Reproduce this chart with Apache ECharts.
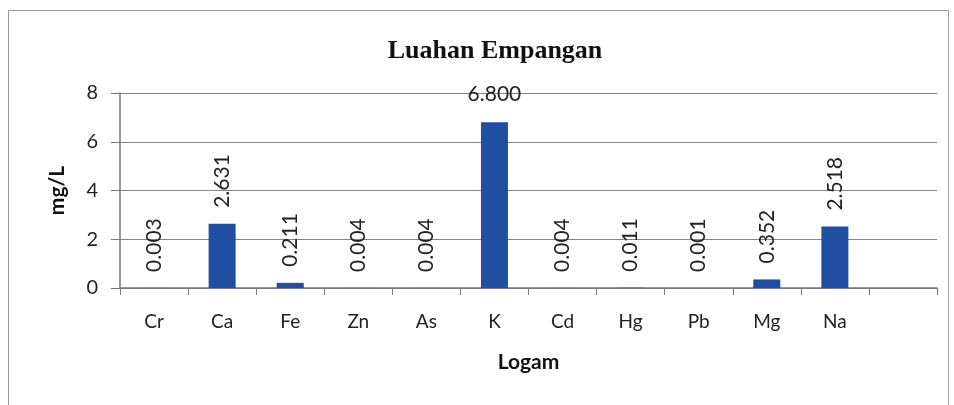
<!DOCTYPE html>
<html><head><meta charset="utf-8">
<script src="https://cdn.jsdelivr.net/npm/echarts@6/dist/echarts.min.js"></script>
<style>html,body{margin:0;padding:0;background:#fff}#c{width:954px;height:405px}</style>
</head><body><div id="c"></div>
<script>
const categories = ['Cr','Ca','Fe','Zn','As','K','Cd','Hg','Pb','Mg','Na',''];
const values = [0.003,2.631,0.211,0.004,0.004,6.800,0.004,0.011,0.001,0.352,2.518,null];
const horizontalLabelCats = ['K'];
const yTicks = {min:0,max:8,interval:2};
const titleText = 'Luahan Empangan';
const yName = 'mg/L';
const xName = 'Logam';

const font = 'Lato, "Open Sans", sans-serif';
const data = values.map((v,i)=>{
  if (v===null) return {value:null};
  const horiz = horizontalLabelCats.includes(categories[i]);
  return {value:v, label: horiz ? {rotate:0, align:'center', verticalAlign:'bottom', distance:18} : {}};
});
const chart = echarts.init(document.getElementById('c'));
chart.setOption({
  animation:false,
  graphic:[{type:'rect',shape:{x:8.5,y:10.5,width:940,height:420},style:{fill:'none',stroke:'#999',lineWidth:1}}],
  title:{text:titleText,left:490,textAlign:'center',top:33,textStyle:{fontFamily:'"Liberation Serif", serif',fontWeight:'bold',fontSize:26,color:'#111'}},
  grid:{left:120,right:17,top:93,bottom:117},
  xAxis:{type:'category',data:categories,
    axisLine:{lineStyle:{color:'#777',width:1.5}},
    axisTick:{show:true,length:7,alignWithLabel:false,lineStyle:{color:'#777'}},
    axisLabel:{fontFamily:font,fontSize:19,color:'#222',margin:24},
    name:xName,nameLocation:'middle',nameGap:64,
    nameTextStyle:{fontFamily:font,fontSize:21,fontWeight:'bold',color:'#111'}},
  yAxis:{type:'value',min:yTicks.min,max:yTicks.max,interval:yTicks.interval,
    axisLine:{show:true,lineStyle:{color:'#777',width:1.5}},
    axisTick:{show:true,length:9,lineStyle:{color:'#777'}},
    splitLine:{lineStyle:{color:'#858585',width:1.2}},
    axisLabel:{fontFamily:font,fontSize:20,color:'#222',margin:22},
    name:yName,nameLocation:'middle',nameGap:52,
    nameTextStyle:{fontFamily:font,fontSize:21,fontWeight:'bold',color:'#111'}},
  series:[{type:'bar',data:data,barWidth:27,itemStyle:{color:'#1f4ea3'},
    label:{show:true,position:'top',rotate:90,align:'left',verticalAlign:'middle',distance:16,
      fontFamily:font,fontSize:21,color:'#222',formatter:p=>p.value==null?'':p.value.toFixed(3)}}]
});
</script></body></html>
